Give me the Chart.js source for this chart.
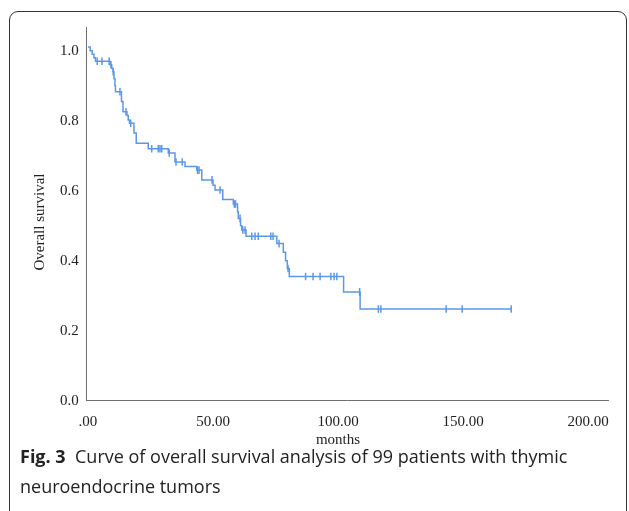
<!DOCTYPE html>
<html>
<head>
<meta charset="utf-8">
<script src="https://cdn.jsdelivr.net/npm/chart.js@4.4.1/dist/chart.umd.min.js"></script>
<style>
  html, body { margin: 0; padding: 0; background: #fff; }
  #wrap { position: relative; width: 629px; height: 511px; overflow: hidden; }
  #c { position: absolute; left: 0; top: 0; }
  #frame { position: absolute; left: 9px; top: 11px; width: 618px; height: 520px;
           border: 1px solid #333; border-radius: 9px; box-sizing: border-box; }
  #caption { position: absolute; left: 20px; top: 441px; width: 600px;
             font-family: "Open Sans", sans-serif; font-size: 18px; line-height: 30px; color: #222; }
  #caption b { font-weight: 700; }
</style>
</head>
<body>
<div id="wrap">
  <div id="frame"></div>
  <canvas id="c" width="629" height="511"></canvas>
  <div id="caption"><b>Fig. 3</b>&nbsp; Curve of overall survival analysis of 99 patients with thymic neuroendocrine tumors</div>
</div>
<script>
// ---- data ----
const stepTimes = [0, 0.9, 1.7, 2.4, 3.0, 8.8, 9.5, 10.0, 10.4, 10.8, 11.0, 13.4, 14.0, 15.6, 16.1, 16.6, 18.4, 19.3, 24.1, 32.1, 34.8, 38.8, 43.5, 45.5, 50.0, 50.8, 53.9, 58.1, 59.8, 60.1, 61.0, 61.5, 63.2, 75.5, 78.1, 79.0, 79.7, 80.5, 102.2, 108.8, 169.2];
const survival = [1.011, 1.0, 0.99, 0.98, 0.970, 0.960, 0.950, 0.940, 0.920, 0.900, 0.883, 0.855, 0.826, 0.815, 0.802, 0.793, 0.765, 0.736, 0.720, 0.708, 0.682, 0.669, 0.659, 0.631, 0.616, 0.602, 0.575, 0.562, 0.540, 0.521, 0.500, 0.488, 0.470, 0.449, 0.424, 0.400, 0.378, 0.355, 0.311, 0.262, 0.262];
const censorTimes = [3.7, 5.6, 8.5, 9.2, 10.1, 12.8, 15.2, 17.1, 25.5, 28.1, 28.8, 29.5, 32.5, 35.2, 37.7, 43.8, 44.4, 49.6, 52.8, 58.5, 59.0, 60.8, 61.9, 62.8, 65.5, 66.8, 68.1, 73.1, 74.0, 76.4, 80.0, 87.0, 90.0, 92.8, 97.1, 98.4, 99.5, 108.6, 116.1, 117.1, 143.2, 149.6, 169.2];
const censorValues = [0.970, 0.970, 0.970, 0.960, 0.940, 0.883, 0.826, 0.793, 0.720, 0.720, 0.720, 0.720, 0.708, 0.682, 0.682, 0.659, 0.659, 0.631, 0.602, 0.562, 0.562, 0.521, 0.488, 0.488, 0.470, 0.470, 0.470, 0.470, 0.470, 0.449, 0.378, 0.355, 0.355, 0.355, 0.355, 0.355, 0.355, 0.311, 0.262, 0.262, 0.262, 0.262, 0.262];
const xTicks = [0, 50, 100, 150, 200];
const yTicks = [0, 0.2, 0.4, 0.6, 0.8, 1.0];
const xTitle = 'months';
const yTitle = 'Overall survival';

const curveColor = 'rgb(92,152,232)';
const serif = '"Liberation Serif", "Times New Roman", serif';

const titlePlugin = {
  id: 'axisTitles',
  afterDraw(chart) {
    const ctx = chart.ctx;
    ctx.save();
    ctx.fillStyle = '#222';
    ctx.font = '15px ' + serif;
    ctx.textAlign = 'center';
    ctx.textBaseline = 'middle';
    ctx.fillText(xTitle, 338, 440);
    ctx.translate(40, 222);
    ctx.rotate(-Math.PI / 2);
    ctx.fillText(yTitle, 0, 0);
    ctx.restore();
  }
};

new Chart(document.getElementById('c'), {
  type: 'line',
  data: {
    datasets: [
      {
        data: stepTimes.map((t, i) => ({ x: t, y: survival[i] })),
        stepped: 'before',
        borderColor: curveColor,
        borderWidth: 1.5,
        pointRadius: 0,
        fill: false
      },
      {
        type: 'scatter',
        data: censorTimes.map((t, i) => ({ x: t, y: censorValues[i] })),
        pointStyle: 'line',
        rotation: 90,
        pointRadius: 3.8,
        borderColor: curveColor,
        backgroundColor: curveColor,
        pointBorderWidth: 1.5,
        showLine: false
      }
    ]
  },
  options: {
    responsive: false,
    animation: false,
    layout: { padding: { left: 0, top: 27, right: 21, bottom: 0 } },
    plugins: { legend: { display: false }, tooltip: { enabled: false } },
    scales: {
      x: {
        type: 'linear',
        min: -0.5,
        max: 207.9,
        afterBuildTicks: s => { s.ticks = xTicks.map(v => ({ value: v })); },
        afterFit: s => { s.height = 110.3; },
        grid: { display: false, drawTicks: false },
        border: { display: true, color: '#6e6e6e', width: 1 },
        ticks: {
          padding: 12, maxRotation: 0, autoSkip: false,
          color: '#222', font: { family: serif, size: 15 },
          callback: v => (v === 0 ? '.00' : Number(v).toFixed(2))
        }
      },
      y: {
        min: 0,
        max: 1.068,
        afterBuildTicks: s => { s.ticks = yTicks.map(v => ({ value: v })); },
        afterFit: s => { s.width = 86.7; },
        grid: { display: false, drawTicks: false },
        border: { display: true, color: '#6e6e6e', width: 1 },
        ticks: {
          padding: 8, autoSkip: false,
          color: '#222', font: { family: serif, size: 15 },
          callback: v => Number(v).toFixed(1)
        }
      }
    }
  },
  plugins: [titlePlugin]
});
</script>
</body>
</html>
